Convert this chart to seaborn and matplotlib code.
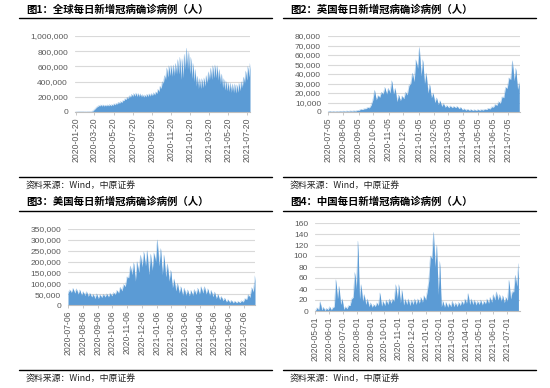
import numpy as np
import pandas as pd
import matplotlib
matplotlib.use("Agg")
import matplotlib.pyplot as plt
import seaborn as sns
from matplotlib.lines import Line2D
from matplotlib.ticker import FuncFormatter

# ---------------- data (weekly high / low) ----------------
# Panel 1: global daily new cases, thousands, weeks from 2020-01-20
g_start = "2020-01-20"
g_high = [0.5, 2, 4, 5, 2, 3, 5, 12, 35, 65,
          85, 95, 95, 92, 95, 100, 100, 110, 115, 130,
          140, 150, 175, 195, 215, 235, 245, 250, 245, 240,
          230, 225, 235, 240, 245, 255, 265, 300, 340, 400,
          480, 580, 610, 615, 620, 640, 690, 720, 700, 760,
          840, 790, 720, 640, 560, 470, 440, 440, 450, 480,
          530, 580, 610, 620, 610, 560, 500, 440, 410, 390,
          380, 370, 370, 360, 380, 400, 460, 540, 600, 640]
g_low = [0.1, 1, 3, 2, 1, 1, 2, 5, 15, 45,
         70, 80, 78, 78, 80, 80, 82, 88, 95, 105,
         115, 125, 150, 165, 180, 195, 205, 210, 205, 205,
         200, 195, 200, 205, 210, 215, 225, 245, 270, 310,
         380, 430, 460, 480, 470, 480, 500, 500, 430, 450,
         560, 560, 500, 440, 400, 340, 310, 310, 320, 340,
         380, 420, 430, 450, 450, 420, 370, 320, 290, 280,
         270, 260, 255, 250, 260, 280, 320, 380, 420, 460]
g_ticks = ["2020-01-20", "2020-03-20", "2020-05-20", "2020-07-20", "2020-09-20",
           "2020-11-20", "2021-01-20", "2021-03-20", "2021-05-20", "2021-07-20"]

# Panel 2: UK, thousands, weeks from 2020-07-05
uk_start = "2020-07-05"
uk_high = [0.9, 0.8, 0.8, 0.9, 1.0, 1.1, 1.2, 1.3, 1.8, 3.0,
           3.5, 4.9, 7.1, 23, 17.5, 21, 26, 25, 33, 25,
           18, 17, 21, 28, 41, 55, 68, 55, 41, 29,
           20, 15, 12, 9, 7, 6.5, 6, 6, 5, 3.5,
           3.0, 2.7, 2.5, 2.6, 2.6, 3.0, 4.0, 5.5, 8, 11,
           16, 26, 36, 54, 46, 31]
uk_low = [0.5, 0.5, 0.5, 0.6, 0.7, 0.7, 0.8, 0.9, 1.0, 1.8,
          2.6, 3.5, 4.4, 12.6, 12.8, 15.5, 19, 19, 20, 19,
          11, 12, 14, 18, 30, 32, 46, 38, 30, 20,
          15, 10, 8, 6, 5, 4.5, 4.5, 4.5, 3.5, 2.3,
          1.9, 1.7, 1.6, 1.6, 1.8, 2.0, 2.5, 3.2, 5, 7,
          9, 15, 25, 34, 33, 24]
uk_ticks = ["2020-07-05", "2020-08-05", "2020-09-05", "2020-10-05", "2020-11-05",
            "2020-12-05", "2021-01-05", "2021-02-05", "2021-03-05", "2021-04-05",
            "2021-05-05", "2021-06-05", "2021-07-05"]

# Panel 3: US, thousands, weeks from 2020-07-06
us_start = "2020-07-06"
us_high = [70, 77, 75, 70, 62, 62, 55, 50, 52, 48,
           50, 52, 55, 58, 68, 82, 95, 130, 180, 195,
           200, 230, 245, 250, 235, 240, 300, 260, 230, 190,
           160, 120, 100, 85, 78, 70, 68, 72, 78, 85,
           85, 75, 68, 60, 50, 40, 32, 25, 22, 18,
           17, 20, 30, 48, 80, 135]
us_low = [55, 58, 55, 50, 46, 44, 40, 37, 30, 30,
          35, 37, 37, 42, 48, 55, 65, 85, 125, 140,
          110, 150, 175, 180, 140, 160, 200, 180, 140, 130,
          110, 80, 65, 55, 45, 45, 42, 45, 48, 50,
          55, 50, 45, 38, 30, 25, 20, 14, 12, 10,
          10, 11, 14, 25, 35, 60]
us_ticks = ["2020-07-06", "2020-08-06", "2020-09-06", "2020-10-06", "2020-11-06",
            "2020-12-06", "2021-01-06", "2021-02-06", "2021-03-06", "2021-04-06",
            "2021-05-06", "2021-06-06", "2021-07-06"]

# Panel 4: China, cases, weeks from 2020-05-01
cn_start = "2020-05-01"
cn_high = [6, 17, 7, 5, 8, 6, 57, 45, 22, 8,
           10, 22, 70, 127, 48, 30, 22, 15, 12, 15,
           33, 18, 20, 22, 22, 48, 48, 38, 22, 22,
           20, 22, 22, 25, 28, 35, 100, 143, 120, 90,
           18, 16, 14, 18, 15, 16, 18, 22, 32, 22,
           20, 18, 20, 18, 22, 25, 30, 35, 30, 28,
           25, 56, 35, 65, 86]
cn_low = [1, 2, 2, 1, 2, 2, 8, 22, 12, 3,
          4, 10, 25, 40, 22, 18, 12, 8, 7, 8,
          10, 9, 10, 12, 14, 18, 22, 15, 11, 12,
          10, 12, 12, 14, 16, 20, 55, 95, 80, 30,
          8, 7, 7, 8, 8, 8, 10, 12, 14, 12,
          12, 11, 12, 11, 13, 14, 16, 20, 20, 18,
          15, 18, 22, 35, 45]
cn_ticks = ["2020-05-01", "2020-06-01", "2020-07-01", "2020-08-01", "2020-09-01",
            "2020-10-01", "2020-11-01", "2020-12-01", "2021-01-01", "2021-02-01",
            "2021-03-01", "2021-04-01", "2021-05-01", "2021-06-01", "2021-07-01"]

titles = ["图1：全球每日新增冠病确诊病例（人）", "图2：英国每日新增冠病确诊病例（人）",
          "图3：美国每日新增冠病确诊病例（人）", "图4：中国每日新增冠病确诊病例（人）"]
source = "资料来源：Wind，中原证券"

# ---------------- style ----------------
sns.set_theme(style="white")
plt.rcParams['font.family'] = ['Noto Sans CJK SC', 'DejaVu Sans']
BLUE = "#5B9BD5"
GRAY = "#595959"
W, H = 550, 388

fig = plt.figure(figsize=(5.5, 3.88), dpi=100)


def frame(start, high, low, scale):
    d = pd.date_range(start, periods=len(high), freq="7D")
    xs, ys = [], []
    for di, hi, lo in zip(d, high, low):
        xs += [di, di + pd.Timedelta(hours=84)]
        ys += [lo * scale, hi * scale]
    return pd.DataFrame({"date": xs, "value": ys})


def add_axes(px_left, px_right, px_top, px_bottom):
    return fig.add_axes([px_left / W, 1 - px_bottom / H,
                         (px_right - px_left) / W, (px_bottom - px_top) / H])


def draw(ax, df, ymax, ystep, ticks, xlim):
    ax.fill_between(df["date"], 0, df["value"], color=BLUE, lw=0, zorder=2)
    sns.lineplot(data=df, x="date", y="value", ax=ax, color=BLUE, lw=0.25, alpha=0.6, zorder=3)
    ax.set_xlim(pd.Timestamp(xlim[0]), pd.Timestamp(xlim[1]) if xlim[1] else df["date"].max())
    ax.set_ylim(0, ymax)
    ax.set_yticks(np.arange(0, ymax + 1, ystep))
    ax.yaxis.set_major_formatter(FuncFormatter(lambda v, _: f"{int(round(v)):,}"))
    ax.grid(axis="y", color="#D9D9D9", lw=0.8, zorder=0)
    ax.grid(axis="x", visible=False)
    ax.set_axisbelow(True)
    for s in ["top", "right", "left"]:
        ax.spines[s].set_visible(False)
    ax.spines["bottom"].set_color("#BFBFBF")
    ax.spines["bottom"].set_linewidth(0.8)
    ax.set_xticks(pd.to_datetime(ticks))
    ax.set_xticklabels(ticks, rotation=90, fontfamily="Liberation Sans", fontsize=6.2, color=GRAY)
    for lab in ax.get_yticklabels():
        lab.set_fontfamily("Liberation Sans")
    ax.tick_params(axis="y", length=0, pad=5, labelsize=6, labelcolor=GRAY)
    ax.tick_params(axis="x", bottom=True, length=2.5, width=0.6, color="#BFBFBF", pad=1.5)
    ax.set_xlabel("")
    ax.set_ylabel("")
    ax.set_facecolor("white")


ax1 = add_axes(75, 250, 36, 112)
draw(ax1, frame(g_start, g_high, g_low, 1000), 1000000, 200000, g_ticks, ("2020-01-18", None))
ax2 = add_axes(328, 520, 36, 112)
draw(ax2, frame(uk_start, uk_high, uk_low, 1000), 80000, 10000, uk_ticks, ("2020-07-05", "2021-07-30"))
ax3 = add_axes(68, 255, 229, 305)
draw(ax3, frame(us_start, us_high, us_low, 1000), 350000, 50000, us_ticks, ("2020-07-06", None))
ax4 = add_axes(315, 520, 223, 311)
draw(ax4, frame(cn_start, cn_high, cn_low, 1), 160, 20, cn_ticks, ("2020-04-30", "2021-07-30"))

# ---------------- titles, rules, sources ----------------
panels = [(19, 272, 26, 10, 18, 177.5, 186),
          (283, 536, 290, 10, 18, 177.5, 186),
          (19, 272, 26, 202, 211, 370, 379),
          (283, 536, 290, 202, 211, 370, 379)]
for (x0, x1, tx, ty, r1, r2, sy), t in zip(panels, titles):
    fig.text(tx / W, 1 - ty / H, t, fontsize=7.5, fontweight="bold", color="black",
             ha="left", va="center")
    for ry in (r1, r2):
        fig.add_artist(Line2D([x0 / W, x1 / W], [1 - ry / H, 1 - ry / H],
                              color="black", lw=1.0, transform=fig.transFigure))
    fig.text(tx / W, 1 - sy / H, source, fontsize=6.4, color="#222222",
             ha="left", va="center")

fig.savefig("out.png", dpi=100, facecolor="white")
